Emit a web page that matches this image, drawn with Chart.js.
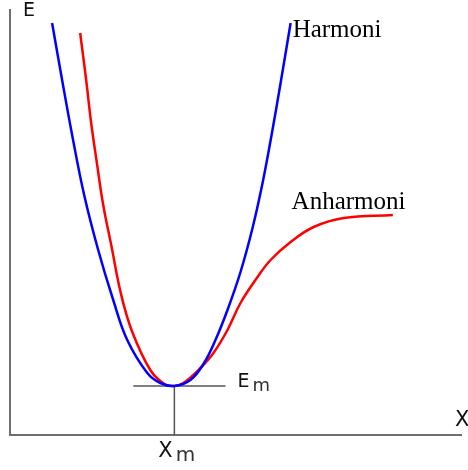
<!DOCTYPE html>
<html>
<head>
<meta charset="utf-8">
<script src="https://cdn.jsdelivr.net/npm/chart.js@4.4.1/dist/chart.umd.min.js"></script>
<style>
  html, body { margin: 0; padding: 0; background: #fff; }
  #wrap { width: 468px; height: 470px; }
</style>
</head>
<body>
<div id="wrap"><canvas id="potential"></canvas></div>
<script>
// Potential energy curves: harmonic parabola vs. anharmonic (Morse-like) well
const harmoniX = [42, 52, 62, 74, 88, 103, 117, 137, 150, 164, 180, 193, 205, 217, 230, 242, 252, 261, 270, 280];
const harmoniE = [412, 355, 300, 240, 185, 135, 95, 62, 52, 49, 55, 71, 95, 125, 163, 207, 252, 300, 352, 412];

const anharmoniX = [70, 76, 81, 87, 93, 101, 111, 122, 140, 154, 164, 173, 190, 203, 217, 230, 247, 260, 280, 303, 333, 382];
const anharmoniE = [402, 355, 312, 270, 230, 190, 140, 103, 65, 51, 49, 52, 67, 82, 105, 132, 158, 175, 193, 208, 217, 220];

// Equilibrium position and minimum energy
const xm = 164;
const em = 49;
const emLineX = [123, 215];

const axisRange = { x: [0, 450], e: [0, 425] };

const toPoints = (xs, ys) => xs.map((x, i) => ({ x: x, y: ys[i] }));

const serif = '25px "Liberation Serif", "Times New Roman", serif';
const sans = '"DejaVu Sans", sans-serif';

// Curve names, placed in data coordinates (baseline-left)
const curveLabels = [
    { x: 282, y: 398, text: 'Harmoni' },
    { x: 281, y: 226, text: 'Anharmoni' }
];

function drawSub(ctx, px, py, main, sub, size) {
    ctx.font = size + 'px ' + sans;
    ctx.fillStyle = '#111';
    ctx.fillText(main, px, py);
    const w = ctx.measureText(main).width;
    ctx.font = (size - 1) + 'px ' + sans;
    ctx.fillStyle = '#333';
    ctx.fillText(sub, px + w + 3, py + 4);
}

const labelsPlugin = {
    id: 'labelsPlugin',
    afterDatasetsDraw(chart) {
        const { ctx, scales: { x, y } } = chart;
        ctx.save();
        ctx.textBaseline = 'alphabetic';
        ctx.textAlign = 'left';
        ctx.fillStyle = '#000';
        ctx.font = serif;
        curveLabels.forEach(l => {
            ctx.fillText(l.text, x.getPixelForValue(l.x), y.getPixelForValue(l.y));
        });

        // axis titles
        ctx.fillStyle = '#111';
        ctx.font = '19px ' + sans;
        ctx.fillText('E', x.left + 13, y.top + 6);
        ctx.font = '21px ' + sans;
        ctx.fillText('X', x.right - 6, y.bottom - 9);

        // E_m next to the minimum line, X_m under the axis
        drawSub(ctx, x.getPixelForValue(emLineX[1]) + 12, y.getPixelForValue(em) + 1, 'E', 'm', 19);
        drawSub(ctx, x.getPixelForValue(xm) - 16, y.bottom + 22, 'X', 'm', 21);
        ctx.restore();
    }
};

new Chart(document.getElementById('potential'), {
    type: 'scatter',
    data: {
        datasets: [
            {
                label: 'Harmoni',
                data: toPoints(harmoniX, harmoniE),
                showLine: true,
                borderColor: '#0000ff',
                borderWidth: 2.5,
                pointRadius: 0,
                tension: 0.4
            },
            {
                label: 'Anharmoni',
                data: toPoints(anharmoniX, anharmoniE),
                showLine: true,
                borderColor: '#ff0000',
                borderWidth: 2.5,
                pointRadius: 0,
                tension: 0.4
            },
            {
                label: 'Em',
                data: toPoints(emLineX, [em, em]),
                showLine: true,
                borderColor: '#555',
                borderWidth: 1.5,
                pointRadius: 0
            },
            {
                label: 'Xm',
                data: toPoints([xm, xm], [0, em]),
                showLine: true,
                borderColor: '#555',
                borderWidth: 1.5,
                pointRadius: 0
            }
        ]
    },
    options: {
        responsive: true,
        maintainAspectRatio: false,
        animation: false,
        devicePixelRatio: 1,
        layout: { padding: { left: 10, right: 7, top: 10, bottom: 35 } },
        plugins: {
            legend: { display: false },
            tooltip: { enabled: false }
        },
        scales: {
            x: {
                type: 'linear',
                min: axisRange.x[0],
                max: axisRange.x[1],
                ticks: { display: false },
                grid: { display: false },
                border: { display: true, color: '#6e6e6e', width: 2 },
                afterFit: s => { s.height = 0; }
            },
            y: {
                type: 'linear',
                min: axisRange.e[0],
                max: axisRange.e[1],
                ticks: { display: false },
                grid: { display: false },
                border: { display: true, color: '#6e6e6e', width: 2 },
                afterFit: s => { s.width = 0; }
            }
        }
    },
    plugins: [labelsPlugin]
});
</script>
</body>
</html>
